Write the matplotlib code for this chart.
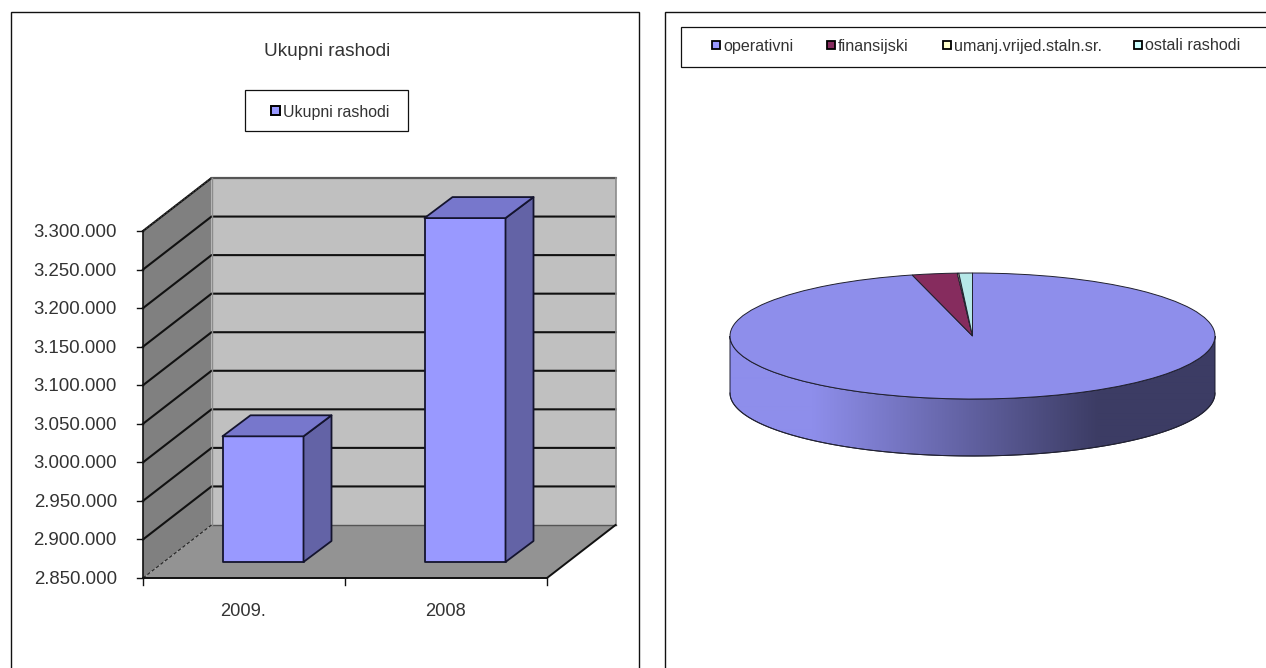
import numpy as np
import matplotlib
matplotlib.use("Agg")
import matplotlib.pyplot as plt
from matplotlib.path import Path
from matplotlib.patches import PathPatch, Polygon, Rectangle

plt.rcParams["font.family"] = ["Liberation Sans", "DejaVu Sans"]

# bar chart data
bar_categories = ["2009.", "2008"]
bar_values = [3013000, 3296000]
bar_series = "Ukupni rashodi"
axis_ticks = [2850000, 2900000, 2950000, 3000000, 3050000, 3100000, 3150000, 3200000, 3250000, 3300000]

# pie chart data (percent)
pie_labels = ["operativni", "finansijski", "umanj.vrijed.staln.sr.", "ostali rashodi"]
pie_values = [96.0, 3.0, 0.1, 0.9]
pie_colors = ["#8E8EEB", "#862C5E", "#EDEDBD", "#B6E8E8"]
legend_colors = ["#9999FF", "#862C5E", "#FFFFCC", "#CCFFFF"]
legend_marker_x = [711, 826, 942, 1133]

W, H = 1266, 668
TEXT = "#333333"
PX = 72 / 100

# 3D frame layout in pixels
X0, X1 = 143, 547
Y0, Y_TOP = 578, 231
DX, DY = 68.5, -53


def val_y(v):
    scale = (Y0 - Y_TOP) / (axis_ticks[-1] - axis_ticks[0])
    return Y0 - (v - axis_ticks[0]) * scale


def poly(ax, pts, fc, ec="none", lw=0.0, z=2):
    ax.add_patch(Polygon(pts, closed=True, fc=fc, ec=ec, lw=lw, zorder=z, joinstyle="round"))


def box(ax, x0, y0, x1, y1, lw=1.0):
    ax.add_patch(Rectangle((x0, y0), x1 - x0, y1 - y0, fc="white", ec="#111111", lw=lw, zorder=1))


def draw_bars(ax):
    y_back = Y0 + DY
    y_top_back = Y_TOP + DY
    poly(ax, [(X0 + DX, y_top_back), (X1 + DX, y_top_back), (X1 + DX, y_back), (X0 + DX, y_back)], "#C0C0C0")
    poly(ax, [(X0, Y_TOP), (X0 + DX, y_top_back), (X0 + DX, y_back), (X0, Y0)], "#808080")
    poly(ax, [(X0, Y0), (X0 + DX, y_back), (X1 + DX, y_back), (X1, Y0)], "#939393")

    for t in axis_ticks[1:]:
        y = val_y(t)
        ax.plot([X0, X0 + DX, X1 + DX], [y, y + DY, y + DY], color="#111111", lw=1.5, zorder=3)
    ax.plot([X0, X0 + DX], [Y_TOP, y_top_back], color="#333333", lw=1.2, ls=(0, (1.2, 1)), zorder=3)
    ax.plot([X0 + DX, X1 + DX], [y_top_back, y_top_back], color="#555555", lw=1.5, zorder=3)
    ax.plot([X1 + DX, X1 + DX], [y_top_back, y_back], color="#8c8c8c", lw=1.2, zorder=3)
    ax.plot([X0 + DX, X1 + DX], [y_back, y_back], color="#555555", lw=1.0, zorder=3)
    ax.plot([X0 + DX, X0 + DX], [y_top_back, y_back], color="#8c8c8c", lw=1.0, zorder=3)
    ax.plot([X0, X0 + DX], [Y0, y_back], color="#222222", lw=0.8, ls=(0, (3, 2)), zorder=3)
    ax.plot([X0, X0], [Y_TOP, Y0], color="#111111", lw=1.2, zorder=3)
    ax.plot([X0, X1, X1 + DX], [Y0, Y0, y_back], color="#111111", lw=1.4, zorder=3)

    # axis ticks and labels
    for t in axis_ticks:
        y = val_y(t)
        ax.plot([X0 - 6, X0], [y, y], color="#111111", lw=1.0, zorder=3)
        label = f"{t:,}".replace(",", ".")
        ax.text(117, y + 1.5, label, ha="right", va="center", fontsize=18.7 * PX, color=TEXT)
    step = (X1 - X0) / len(bar_categories)
    for i in range(len(bar_categories) + 1):
        x = X0 + i * step
        ax.plot([x, x], [Y0, Y0 + 7], color="#111111", lw=1.0, zorder=3)
    for i, cat in enumerate(bar_categories):
        ax.text(X0 + (i + 0.5) * step - 1, 612, cat, ha="center", va="center", fontsize=18.3 * PX, color=TEXT)

    # columns sit slightly behind the front edge of the floor
    base_dx, base_dy = 19, -16
    bw, bdx, bdy = 81, 28, -21
    edge = dict(ec="#14142e", lw=1.3)
    for i, v in enumerate(bar_values):
        left = X0 + (i + 0.5) * step - bw / 2 + base_dx
        right = left + bw
        bottom = Y0 + base_dy
        top = val_y(v) + base_dy
        poly(ax, [(left, bottom), (left, top), (right, top), (right, bottom)], "#9999FF", z=5, **edge)
        poly(ax, [(right, bottom), (right, top), (right + bdx, top + bdy), (right + bdx, bottom + bdy)], "#6363A6", z=5, **edge)
        poly(ax, [(left, top), (left + bdx, top + bdy), (right + bdx, top + bdy), (right, top)], "#7777CC", z=5, **edge)


def draw_pie_side(ax):
    cx, cy, rx, ry, depth = 972.5, 336, 242.5, 63, 57
    t = np.linspace(np.pi, 0, 200)
    xs = cx + rx * np.cos(t)
    lower = cy + depth + ry * np.sin(t)
    upper = cy + ry * np.sin(t)
    verts = list(zip(xs, lower)) + list(zip(xs[::-1], upper[::-1])) + [(xs[0], lower[0])]
    codes = [Path.MOVETO] + [Path.LINETO] * (len(verts) - 2) + [Path.CLOSEPOLY]
    path = Path(verts, codes)
    c0, c1 = np.array([142, 142, 235]) / 255, np.array([60, 60, 100]) / 255
    # shade stays flat at both ends of the rim
    u = np.clip((np.linspace(0, 1, 485) - 0.17) / (0.76 - 0.17), 0, 1)
    grad = (c0[None, :] * (1 - u[:, None]) + c1[None, :] * u[:, None])[None, :, :]
    im = ax.imshow(grad, extent=(cx - rx, cx + rx, cy + depth + ry, cy - ry), aspect="auto", zorder=2, interpolation="bilinear")
    patch = PathPatch(path, fc="none", ec="#1c1c30", lw=0.7, zorder=3)
    ax.add_patch(patch)
    im.set_clip_path(patch)
    ax.plot(xs, lower, color="#222233", lw=0.7, zorder=3)
    ax.set_xlim(0, W)
    ax.set_ylim(H, 0)
    return cx, cy, rx, ry


fig = plt.figure(figsize=(W / 100, H / 100), dpi=100, facecolor="white")
ax = fig.add_axes([0, 0, 1, 1])
ax.set_xlim(0, W)
ax.set_ylim(H, 0)
ax.axis("off")

# chart frames run off the page
box(ax, 11, 12, 639, H + 5, lw=1.0)
box(ax, 665, 12, W + 5, H + 5, lw=1.0)

ax.text(327, 51.5, bar_series, ha="center", va="center", fontsize=19 * PX, color=TEXT)
box(ax, 245, 90, 408, 131, lw=0.9)
ax.add_patch(Rectangle((271, 106), 9, 9, fc="#9999FF", ec="black", lw=1.4, zorder=4))
ax.text(283, 112, bar_series, ha="left", va="center", fontsize=15.9 * PX, color=TEXT, zorder=4)

draw_bars(ax)

box(ax, 681, 27, W + 5, 67, lw=0.9)
for mx, lab, col in zip(legend_marker_x, pie_labels, legend_colors):
    ax.add_patch(Rectangle((mx + 1, 41), 8, 8, fc=col, ec="black", lw=1.3, zorder=4))
    ax.text(mx + 12, 46, lab, ha="left", va="center", fontsize=16.1 * PX, color=TEXT, zorder=4)

cx, cy, rx, ry = draw_pie_side(ax)

ax_pie = fig.add_axes([(cx - rx) / W, 1 - (cy + ry) / H, 2 * rx / W, 2 * ry / H])
wedges, _ = ax_pie.pie(
    pie_values,
    colors=pie_colors,
    startangle=90,
    counterclock=False,
    radius=1.0,
    wedgeprops=dict(edgecolor="#20202e", linewidth=0.7),
)
ax_pie.set_aspect("auto")
ax_pie.set_xlim(-1, 1)
ax_pie.set_ylim(-1, 1)
ax_pie.patch.set_alpha(0)

fig.savefig("out.png", dpi=100)
plt.close(fig)
